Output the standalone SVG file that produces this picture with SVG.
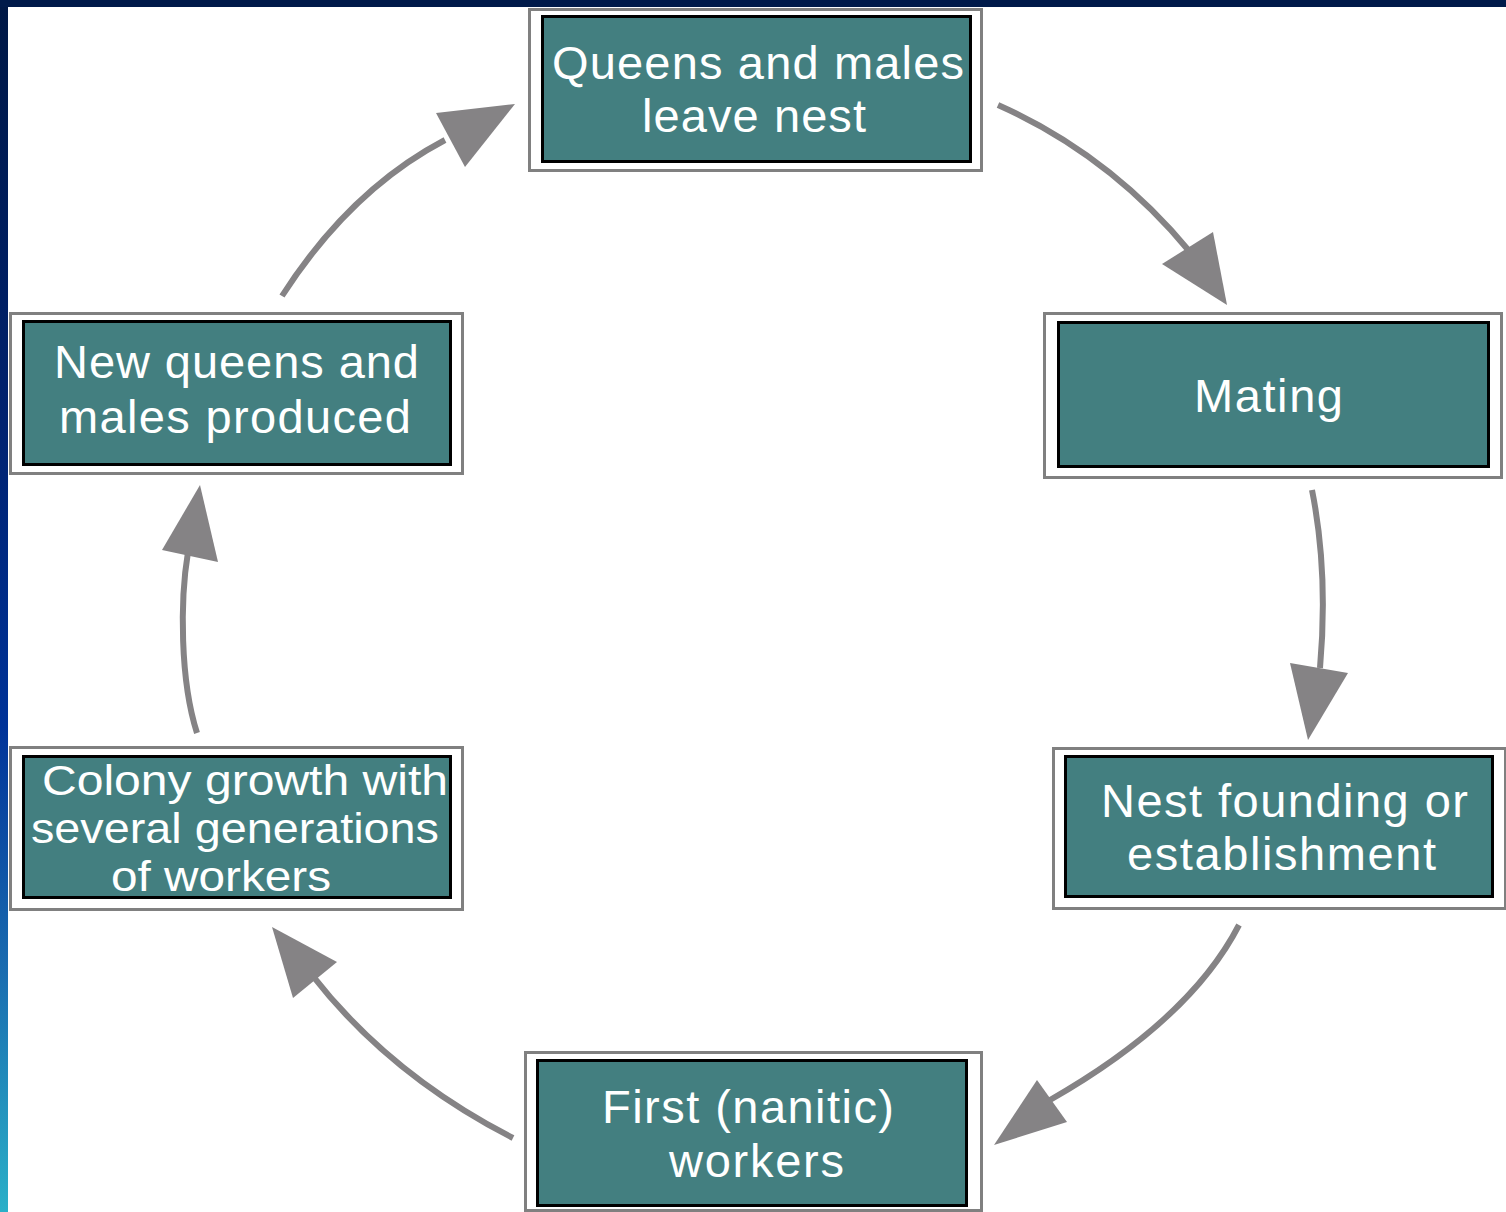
<svg xmlns="http://www.w3.org/2000/svg" width="1506" height="1212" viewBox="0 0 1506 1212">
  <style>
    .outer { fill: #ffffff; stroke: #808080; stroke-width: 3; }
    .inner { fill: #437f80; stroke: #000000; stroke-width: 3; }
    .lbl { font-family: "Liberation Sans", Arial, sans-serif; font-size: 47px; fill: #ffffff; text-anchor: middle; }
    .lbl-sm { font-size: 42px; }
    .shaft { fill: none; stroke: #858385; stroke-width: 6; stroke-linecap: butt; }
    .head { fill: #858385; stroke: none; }
  </style>
  <defs>
    <linearGradient id="sideGrad" x1="0" y1="0" x2="0" y2="1">
      <stop offset="0" stop-color="#001845"/>
      <stop offset="0.35" stop-color="#002270"/>
      <stop offset="0.6" stop-color="#003399"/>
      <stop offset="0.8" stop-color="#1a6cb0"/>
      <stop offset="1" stop-color="#2ab0c8"/>
    </linearGradient>
  </defs>

  <rect x="0" y="0" width="1506" height="1212" fill="#ffffff"/>
  <rect x="0" y="0" width="8" height="1212" fill="url(#sideGrad)"/>
  <rect x="0" y="0" width="1506" height="7" fill="#001a4a"/>

  <g id="connectors">
    <path class="shaft" d="M 998,105 Q 1110,155 1190,252"/>
    <polygon class="head" points="1227,305 1162,264 1213,232"/>

    <path class="shaft" d="M 1312,490 C 1322,540 1326,600 1320,668"/>
    <polygon class="head" points="1308,740 1290,663 1348,673"/>

    <path class="shaft" d="M 1239,925 Q 1190,1020 1050,1100"/>
    <polygon class="head" points="994,1145 1037,1080 1067,1122"/>

    <path class="shaft" d="M 513,1138 Q 390,1075 312,975"/>
    <polygon class="head" points="272,927 337,962 293,998"/>

    <path class="shaft" d="M 197,733 C 180,680 180,600 188,552"/>
    <polygon class="head" points="200,485 162,550 218,562"/>

    <path class="shaft" d="M 282,296 Q 350,190 445,140"/>
    <polygon class="head" points="515,104 436,113 465,167"/>
  </g>

  <g id="node-leave-nest">
    <rect class="outer" x="529.5" y="9.5" width="452" height="161"/>
    <rect class="inner" x="542.5" y="16.5" width="428" height="145"/>
    <text class="lbl" x="758" y="79" textLength="412" lengthAdjust="spacing">Queens and males</text>
    <text class="lbl" x="754" y="132" textLength="224" lengthAdjust="spacing">leave nest</text>
  </g>

  <g id="node-mating">
    <rect class="outer" x="1044.5" y="313.5" width="457" height="164"/>
    <rect class="inner" x="1058.5" y="322.5" width="430" height="144"/>
    <text class="lbl" x="1268.5" y="412" textLength="149" lengthAdjust="spacing">Mating</text>
  </g>

  <g id="node-nest-founding">
    <rect class="outer" x="1053.5" y="748.5" width="452" height="160"/>
    <rect class="inner" x="1065.5" y="756.5" width="427" height="140"/>
    <text class="lbl" x="1284.5" y="817" textLength="367" lengthAdjust="spacing">Nest founding or</text>
    <text class="lbl" x="1281.5" y="870" textLength="309" lengthAdjust="spacing">establishment</text>
  </g>

  <g id="node-first-workers">
    <rect class="outer" x="525.5" y="1052.5" width="456" height="158"/>
    <rect class="inner" x="537.5" y="1060.5" width="429" height="145"/>
    <text class="lbl" x="748" y="1123" textLength="292" lengthAdjust="spacing">First (nanitic)</text>
    <text class="lbl" x="756.5" y="1177" textLength="175" lengthAdjust="spacing">workers</text>
  </g>

  <g id="node-colony-growth">
    <rect class="outer" x="10.5" y="747.5" width="452" height="162"/>
    <rect class="inner" x="23.5" y="756.5" width="427" height="141"/>
    <text class="lbl lbl-sm" x="245" y="795" textLength="406" lengthAdjust="spacingAndGlyphs">Colony growth with</text>
    <text class="lbl lbl-sm" x="235" y="843" textLength="408" lengthAdjust="spacingAndGlyphs">several generations</text>
    <text class="lbl lbl-sm" x="221" y="891" textLength="220" lengthAdjust="spacingAndGlyphs">of workers</text>
  </g>

  <g id="node-new-queens">
    <rect class="outer" x="10.5" y="313.5" width="452" height="160"/>
    <rect class="inner" x="23.5" y="321.5" width="427" height="143"/>
    <text class="lbl" x="236.5" y="378" textLength="365" lengthAdjust="spacing">New queens and</text>
    <text class="lbl" x="235" y="433" textLength="352" lengthAdjust="spacing">males produced</text>
  </g>
</svg>
